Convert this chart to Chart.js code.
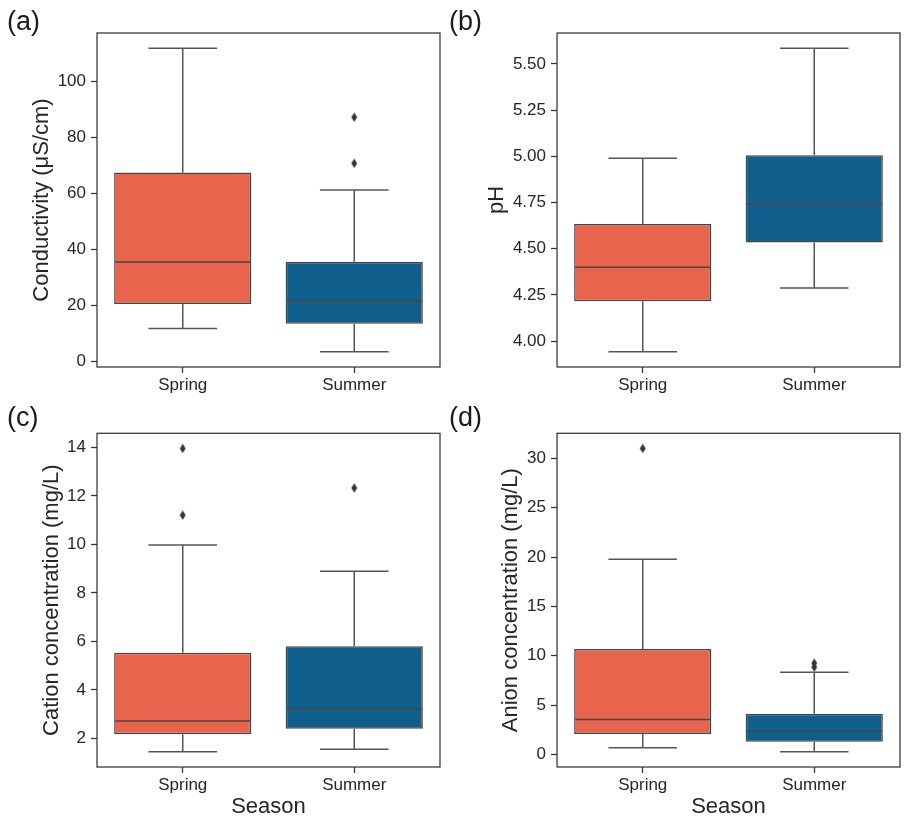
<!DOCTYPE html>
<html><head><meta charset="utf-8">
<script src="https://cdn.jsdelivr.net/npm/chart.js@4.4.1/dist/chart.umd.min.js"></script>
<style>
body{margin:0;background:#fff;width:920px;height:822px;position:relative;overflow:hidden;font-family:"Liberation Sans",Arial,sans-serif;}
.panel{position:absolute;width:460px;height:411px;}
.panel canvas{position:absolute;left:0;top:0;}
.lbl{position:absolute;font-size:27px;color:#1a1a1a;line-height:1;}
</style></head><body>
<div class="panel" style="left:0;top:0"><canvas id="ca" width="460" height="411"></canvas></div>
<div class="panel" style="left:460px;top:0"><canvas id="cb" width="460" height="411"></canvas></div>
<div class="panel" style="left:0;top:411px"><canvas id="cc" width="460" height="411"></canvas></div>
<div class="panel" style="left:460px;top:411px"><canvas id="cd" width="460" height="411"></canvas></div>
<div class="lbl" style="left:7px;top:8px">(a)</div>
<div class="lbl" style="left:449px;top:8px">(b)</div>
<div class="lbl" style="left:7px;top:404px">(c)</div>
<div class="lbl" style="left:449px;top:404px">(d)</div>
<script>
// ---------------- data ----------------
const seasons = ['Spring', 'Summer'];

// (a) Conductivity
const condWhiskerLow  = [11.7, 3.4];
const condQ1          = [20.5, 13.4];
const condMedian      = [35.5, 21.5];
const condQ3          = [67.5, 35.6];
const condWhiskerHigh = [112.0, 61.3];
const condOutliersSpring = [];
const condOutliersSummer = [87.3, 70.8];
const condTickLabels = ['0', '20', '40', '60', '80', '100'];

// (b) pH
const phWhiskerLow  = [3.942, 4.287];
const phQ1          = [4.215, 4.533];
const phMedian      = [4.400, 4.743];
const phQ3          = [4.634, 5.005];
const phWhiskerHigh = [4.989, 5.585];
const phOutliersSpring = [];
const phOutliersSummer = [];
const phTickLabels = ['4.00', '4.25', '4.50', '4.75', '5.00', '5.25', '5.50'];

// (c) Cation concentration
const catWhiskerLow  = [1.45, 1.56];
const catQ1          = [2.18, 2.40];
const catMedian      = [2.72, 3.21];
const catQ3          = [5.54, 5.80];
const catWhiskerHigh = [9.98, 8.90];
const catOutliersSpring = [13.96, 11.21];
const catOutliersSummer = [12.33];
const catTickLabels = ['2', '4', '6', '8', '10', '12', '14'];

// (d) Anion concentration
const anWhiskerLow  = [0.68, 0.27];
const anQ1          = [2.07, 1.29];
const anMedian      = [3.55, 2.37];
const anQ3          = [10.69, 4.13];
const anWhiskerHigh = [19.79, 8.32];
const anOutliersSpring = [31.0];
const anOutliersSummer = [9.25, 8.85];
const anTickLabels = ['0', '5', '10', '15', '20', '25', '30'];

// ---------------- styling ----------------
const FILLS = ['#E8644C', '#0F5E8B'];
const EDGE = '#474747';
const WHISK = '#555555';
const TXT = '#262626';
Chart.defaults.font.family = "'Liberation Sans', Arial, sans-serif";
Chart.defaults.color = TXT;

function diamondImage() {
  const c = document.createElement('canvas');
  c.width = 7; c.height = 10;
  const g = c.getContext('2d');
  g.fillStyle = '#333333';
  g.beginPath();
  g.moveTo(3.5, 0.3); g.lineTo(6.4, 5); g.lineTo(3.5, 9.7); g.lineTo(0.6, 5);
  g.closePath(); g.fill();
  return c;
}
const DIAMOND = diamondImage();

const boxParts = {
  id: 'boxParts',
  beforeDatasetsDraw(chart, args, opts) {
    const y = chart.scales.y, meta = chart.getDatasetMeta(0), ctx = chart.ctx;
    ctx.save();
    ctx.strokeStyle = WHISK; ctx.lineWidth = 1.5;
    meta.data.forEach((bar, i) => {
      const x = bar.x, w = bar.width;
      const yl = y.getPixelForValue(opts.low[i]), yq1 = y.getPixelForValue(opts.q1[i]);
      const yq3 = y.getPixelForValue(opts.q3[i]), yh = y.getPixelForValue(opts.high[i]);
      ctx.beginPath();
      ctx.moveTo(x, yl); ctx.lineTo(x, yq1);
      ctx.moveTo(x, yq3); ctx.lineTo(x, yh);
      ctx.moveTo(x - w / 4, yl); ctx.lineTo(x + w / 4, yl);
      ctx.moveTo(x - w / 4, yh); ctx.lineTo(x + w / 4, yh);
      ctx.stroke();
    });
    ctx.restore();
  },
  afterDatasetsDraw(chart, args, opts) {
    const y = chart.scales.y, meta = chart.getDatasetMeta(0), ctx = chart.ctx;
    ctx.save();
    ctx.strokeStyle = EDGE; ctx.lineWidth = 1.5;
    meta.data.forEach((bar, i) => {
      const ym = y.getPixelForValue(opts.med[i]);
      ctx.beginPath();
      ctx.moveTo(bar.x - bar.width / 2 + 1, ym); ctx.lineTo(bar.x + bar.width / 2 - 1, ym);
      ctx.stroke();
    });
    const a = chart.chartArea;
    ctx.strokeStyle = '#333333'; ctx.lineWidth = 1.25;
    ctx.strokeRect(a.left, a.top, a.right - a.left, a.bottom - a.top);
    ctx.restore();
  }
};

function makePanel(id, p) {
  const all = [].concat(p.low, p.high, p.outSpring, p.outSummer);
  const lo = Math.min(...all), hi = Math.max(...all);
  const pad = 0.05 * (hi - lo);
  const outliers = p.outSpring.map(v => ({x: seasons[0], y: v}))
    .concat(p.outSummer.map(v => ({x: seasons[1], y: v})));
  new Chart(document.getElementById(id), {
    type: 'bar',
    data: {
      labels: seasons,
      datasets: [{
        data: p.q1.map((v, i) => [v, p.q3[i]]),
        backgroundColor: FILLS,
        borderColor: EDGE,
        borderWidth: 1.5,
        borderSkipped: false,
        barPercentage: 0.8,
        categoryPercentage: 1.0
      }, {
        type: 'line',
        data: outliers,
        showLine: false,
        pointStyle: DIAMOND,
        pointRadius: 5,
        pointHoverRadius: 5
      }]
    },
    options: {
      responsive: false,
      animation: false,
      events: [],
      layout: {padding: {left: 0, right: 20, top: p.top, bottom: 0}},
      plugins: {
        legend: {display: false},
        tooltip: {enabled: false},
        boxParts: {low: p.low, q1: p.q1, med: p.med, q3: p.q3, high: p.high}
      },
      scales: {
        x: {
          grid: {display: true, offset: false, drawOnChartArea: false, drawTicks: true,
                 tickLength: 6, tickColor: '#333333', tickWidth: 1.25},
          border: {display: false},
          ticks: {font: {size: 17}, color: TXT, padding: 2},
          title: {display: !!p.xTitle, text: p.xTitle || '', font: {size: 22, lineHeight: 1.2},
                  color: TXT, padding: {top: 0, bottom: 1.5}},
          afterFit(s) { s.height = p.xHeight; s.paddingLeft = 0; s.paddingRight = 0; }
        },
        y: {
          min: lo - pad,
          max: hi + pad,
          grid: {display: true, drawOnChartArea: false, drawTicks: true,
                 tickLength: 6, tickColor: '#333333', tickWidth: 1.25},
          border: {display: false},
          afterBuildTicks(s) { s.ticks = p.ticks.map(t => ({value: parseFloat(t)})); },
          ticks: {font: {size: 17}, color: TXT, padding: 5, autoSkip: false,
                  callback: (v, i) => p.ticks[i]},
          title: {display: true, text: p.yTitle, font: {size: 22, lineHeight: 1.2}, color: TXT,
                  padding: {top: p.yTitleCenter - 13.2, bottom: 0}},
          afterFit(s) { s.width = 97; s.paddingTop = 0; s.paddingBottom = 0; }
        }
      }
    },
    plugins: [boxParts]
  });
}

makePanel('ca', {low: condWhiskerLow, q1: condQ1, med: condMedian, q3: condQ3, high: condWhiskerHigh,
  outSpring: condOutliersSpring, outSummer: condOutliersSummer, ticks: condTickLabels,
  yTitle: 'Conductivity (\u03bcS/cm)', top: 33, xHeight: 44, yTitleCenter: 42});
makePanel('cb', {low: phWhiskerLow, q1: phQ1, med: phMedian, q3: phQ3, high: phWhiskerHigh,
  outSpring: phOutliersSpring, outSummer: phOutliersSummer, ticks: phTickLabels,
  yTitle: 'pH', top: 33, xHeight: 44, yTitleCenter: 37});
makePanel('cc', {low: catWhiskerLow, q1: catQ1, med: catMedian, q3: catQ3, high: catWhiskerHigh,
  outSpring: catOutliersSpring, outSummer: catOutliersSummer, ticks: catTickLabels,
  yTitle: 'Cation concentration (mg/L)', xTitle: 'Season', top: 22.3, xHeight: 55, yTitleCenter: 51.5});
makePanel('cd', {low: anWhiskerLow, q1: anQ1, med: anMedian, q3: anQ3, high: anWhiskerHigh,
  outSpring: anOutliersSpring, outSummer: anOutliersSummer, ticks: anTickLabels,
  yTitle: 'Anion concentration (mg/L)', xTitle: 'Season', top: 22.3, xHeight: 55, yTitleCenter: 51});
</script>
</body></html>
